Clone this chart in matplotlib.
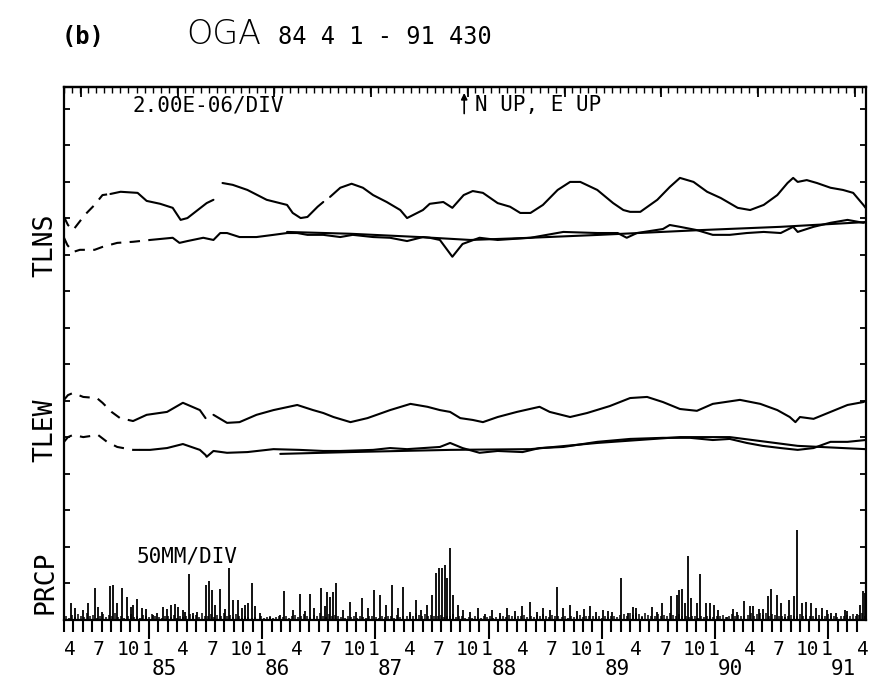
import numpy as np
import matplotlib
matplotlib.use("Agg")
import matplotlib.pyplot as plt

# ---------------- data (time in decimal years, tilt in divisions of 2.00E-06) -------------
ns_raw_early_t = [1984.25, 1984.285, 1984.33, 1984.435, 1984.52, 1984.59, 1984.66]
ns_raw_early_v = [11.04, 10.82, 10.68, 11.10, 11.37, 11.64, 11.67]
ns_raw_t = [1984.66, 1984.75, 1984.90, 1984.98, 1985.10, 1985.21, 1985.28, 1985.34, 1985.51, 1985.57,
            np.nan, 1985.65, 1985.74, 1985.87, 1986.04, 1986.22, 1986.27, 1986.34, 1986.40, 1986.49,
            1986.54, np.nan, 1986.60, 1986.69, 1986.79, 1986.89, 1986.98, 1987.10, 1987.22, 1987.28,
            1987.42, 1987.48, 1987.60, 1987.68, 1987.78, 1987.86, 1987.95, 1988.08, 1988.19, 1988.28,
            1988.37, 1988.48, 1988.61, 1988.72, 1988.81, 1988.96, 1989.10, 1989.19, 1989.25, 1989.34,
            1989.49, 1989.60, 1989.69, 1989.81, 1989.93, 1990.05, 1990.20, 1990.31, 1990.43, 1990.55,
            1990.64, 1990.69, 1990.73, 1990.81, 1990.90, 1991.02, 1991.13, 1991.22, 1991.31, 1991.33]
ns_raw_v = [11.67, 11.73, 11.70, 11.48, 11.40, 11.29, 10.96, 11.01, 11.42, 11.51,
            np.nan, 11.97, 11.92, 11.78, 11.51, 11.37, 11.15, 11.01, 11.04, 11.32,
            11.45, np.nan, 11.59, 11.84, 11.95, 11.84, 11.64, 11.45, 11.23, 11.01,
            11.23, 11.40, 11.45, 11.29, 11.64, 11.75, 11.70, 11.42, 11.32, 11.15,
            11.15, 11.37, 11.78, 12.00, 12.00, 11.78, 11.42, 11.23, 11.18, 11.18,
            11.51, 11.86, 12.11, 12.00, 11.73, 11.56, 11.29, 11.23, 11.37, 11.64,
            11.97, 12.11, 12.00, 12.05, 11.97, 11.84, 11.78, 11.70, 11.37, 11.29]

ns_res_early_t = [1984.25, 1984.28, 1984.33, 1984.39, 1984.52, 1984.59, 1984.72, 1984.86, 1985.01]
ns_res_early_v = [10.47, 10.27, 10.08, 10.14, 10.14, 10.22, 10.33, 10.36, 10.41]
ns_res_t = [1985.01, 1985.21, 1985.27, 1985.34, 1985.48, 1985.57, 1985.63, 1985.69, 1985.80, 1985.95,
            1986.10, 1986.22, 1986.31, 1986.40, 1986.54, 1986.69, 1986.80, 1986.98, 1987.13, 1987.28,
            1987.42, 1987.48, 1987.57, 1987.68, 1987.77, 1987.92, 1988.08, 1988.37, 1988.66, 1988.96,
            1989.14, 1989.22, 1989.31, 1989.54, 1989.60, 1989.69, 1989.84, 1989.98, 1990.13, 1990.28,
            1990.43, 1990.58, 1990.69, 1990.73, 1990.87, 1991.02, 1991.17, 1991.31, 1991.33]
ns_res_v = [10.41, 10.47, 10.33, 10.38, 10.47, 10.41, 10.60, 10.60, 10.49, 10.49,
            10.55, 10.60, 10.60, 10.55, 10.55, 10.49, 10.55, 10.49, 10.47, 10.38,
            10.49, 10.47, 10.41, 9.95, 10.30, 10.47, 10.41, 10.47, 10.63, 10.60,
            10.60, 10.47, 10.60, 10.71, 10.82, 10.77, 10.68, 10.55, 10.55, 10.60,
            10.63, 10.60, 10.77, 10.63, 10.77, 10.88, 10.96, 10.88, 10.90]
ns_fit_t = [1986.22, 1986.78, 1987.39, 1987.84, 1988.37, 1988.98, 1989.87, 1990.58, 1991.33]
ns_fit_v = [10.63, 10.58, 10.49, 10.41, 10.47, 10.55, 10.68, 10.77, 10.90]

ew_raw_early_t = [1984.25, 1984.285, 1984.33, 1984.42, 1984.54, 1984.59, 1984.67, 1984.745, 1984.86]
ew_raw_early_v = [6.03, 6.16, 6.22, 6.11, 6.08, 5.95, 5.70, 5.53, 5.45]
ew_raw_t = [1984.86, 1984.98, 1985.16, 1985.30, 1985.45, 1985.50, np.nan, 1985.57, 1985.69, 1985.80,
            1985.95, 1986.10, 1986.31, 1986.45, 1986.54, 1986.63, 1986.78, 1986.93, 1987.13, 1987.31,
            1987.46, 1987.57, 1987.66, 1987.75, 1987.86, 1987.95, 1988.08, 1988.25, 1988.45, 1988.54,
            1988.72, 1988.87, 1989.07, 1989.25, 1989.40, 1989.54, 1989.69, 1989.84, 1989.98, 1990.22,
            1990.40, 1990.55, 1990.66, 1990.71, 1990.75, 1990.87, 1991.02, 1991.17, 1991.31, 1991.33]
ew_raw_v = [5.45, 5.62, 5.70, 5.95, 5.75, 5.53, np.nan, 5.62, 5.40, 5.42,
            5.62, 5.75, 5.89, 5.75, 5.67, 5.56, 5.42, 5.53, 5.75, 5.92,
            5.84, 5.75, 5.70, 5.53, 5.48, 5.42, 5.56, 5.70, 5.84, 5.70,
            5.56, 5.67, 5.86, 6.08, 6.11, 5.97, 5.78, 5.73, 5.92, 6.03,
            5.92, 5.75, 5.56, 5.42, 5.56, 5.51, 5.70, 5.89, 5.97, 6.00]

ew_res_early_t = [1984.25, 1984.285, 1984.33, 1984.42, 1984.55, 1984.63, 1984.72, 1984.86, 1984.92]
ew_res_early_v = [4.88, 5.01, 5.07, 5.01, 5.07, 4.88, 4.74, 4.66, 4.66]
ew_res_t = [1984.92, 1985.01, 1985.16, 1985.30, 1985.45, 1985.50, 1985.51, 1985.57, 1985.69, 1985.87,
            1986.10, 1986.33, 1986.54, 1986.69, 1986.98, 1987.13, 1987.28, 1987.57, 1987.66, 1987.77,
            1987.92, 1988.08, 1988.30, 1988.45, 1988.66, 1988.96, 1989.25, 1989.54, 1989.78, 1989.98,
            1990.13, 1990.28, 1990.42, 1990.58, 1990.73, 1990.87, 1991.02, 1991.17, 1991.33]
ew_res_v = [4.66, 4.66, 4.71, 4.82, 4.66, 4.52, 4.47, 4.63, 4.58, 4.60,
            4.68, 4.66, 4.63, 4.63, 4.66, 4.71, 4.68, 4.74, 4.85, 4.71,
            4.58, 4.63, 4.60, 4.71, 4.74, 4.88, 4.96, 4.99, 4.99, 4.93,
            4.96, 4.85, 4.77, 4.71, 4.66, 4.71, 4.88, 4.88, 4.93]
ew_fit_t = [1986.16, 1986.78, 1987.66, 1988.37, 1988.96, 1989.69, 1990.13, 1990.73, 1991.33]
ew_fit_v = [4.55, 4.60, 4.66, 4.68, 4.85, 5.01, 5.01, 4.77, 4.68]

# precipitation (mm), 50 mm per division -- individual larger rain days
prcp_t = [1984.309, 1984.347, 1984.418, 1984.462, 1984.524, 1984.550, 1984.586, 1984.656, 1984.683, 1984.718,
          1984.762, 1984.807, 1984.842, 1984.860, 1984.895, 1984.939, 1984.974, 1985.036, 1985.072, 1985.125,
          1985.160, 1985.195, 1985.231, 1985.257, 1985.301, 1985.319, 1985.354, 1985.390, 1985.425, 1985.504,
          1985.531, 1985.557, 1985.584, 1985.628, 1985.672, 1985.708, 1985.743, 1985.787, 1985.822, 1985.849,
          1985.875, 1985.911, 1985.937, 1985.981, 1986.070, 1986.158, 1986.193, 1986.273, 1986.335, 1986.379,
          1986.423, 1986.458, 1986.520, 1986.556, 1986.573, 1986.600, 1986.626, 1986.653, 1986.715, 1986.777,
          1986.830, 1986.883, 1986.936, 1986.989, 1987.042, 1987.095, 1987.148, 1987.201, 1987.245, 1987.307,
          1987.360, 1987.404, 1987.457, 1987.501, 1987.536, 1987.563, 1987.589, 1987.616, 1987.633, 1987.660,
          1987.686, 1987.731, 1987.775, 1987.837, 1987.907, 1987.969, 1988.031, 1988.102, 1988.163, 1988.234,
          1988.296, 1988.367, 1988.428, 1988.481, 1988.543, 1988.605, 1988.658, 1988.720, 1988.782, 1988.844,
          1988.897, 1988.950, 1989.012, 1989.056, 1989.091, 1989.171, 1989.232, 1989.277, 1989.303, 1989.356,
          1989.444, 1989.489, 1989.533, 1989.612, 1989.665, 1989.683, 1989.709, 1989.736, 1989.762, 1989.789,
          1989.842, 1989.868, 1989.921, 1989.957, 1989.992, 1990.027, 1990.107, 1990.160, 1990.195, 1990.257,
          1990.310, 1990.337, 1990.390, 1990.425, 1990.469, 1990.496, 1990.549, 1990.584, 1990.619, 1990.655,
          1990.699, 1990.725, 1990.769, 1990.805, 1990.849, 1990.893, 1990.946, 1990.990, 1991.026, 1991.070,
          1991.149, 1991.167, 1991.255, 1991.282, 1991.308, 1991.326]
prcp_mm = [23, 16, 14, 23, 44, 18, 11, 47, 48, 23,
           44, 32, 18, 21, 29, 16, 15, 7, 10, 18,
           15, 21, 22, 18, 14, 11, 63, 10, 11, 48,
           53, 41, 21, 42, 15, 71, 27, 27, 16, 21,
           23, 51, 19, 10, 4, 7, 40, 14, 36, 12,
           36, 16, 44, 19, 38, 32, 38, 51, 14, 25,
           11, 30, 16, 41, 34, 21, 48, 16, 45, 11,
           27, 14, 21, 34, 64, 71, 71, 75, 58, 99,
           34, 21, 14, 11, 16, 8, 14, 10, 16, 12,
           19, 25, 11, 16, 14, 45, 16, 21, 12, 15,
           19, 11, 14, 12, 11, 58, 10, 18, 16, 4,
           18, 11, 23, 33, 34, 41, 42, 23, 88, 30,
           23, 63, 23, 23, 21, 14, 4, 15, 11, 26,
           19, 19, 15, 15, 33, 42, 34, 23, 4, 27,
           33, 123, 23, 25, 23, 16, 16, 14, 10, 10,
           14, 12, 8, 21, 40, 37]

# light rain, one value per 10-day period starting 1984-04-01 (mm)
prcp_light_mm = [5, 3, 7, 4, 8, 6, 4, 9, 5, 7,
                 3, 6, 8, 4, 7, 5, 9, 4, 6, 3,
                 5, 8, 4, 6, 3, 7, 5, 4, 8, 6,
                 4, 3, 5, 6, 4, 7, 3, 5, 4, 6,
                 8, 5, 7, 4, 9, 6, 5, 8, 4, 7,
                 6, 9, 5, 7, 4, 8, 6, 3, 5, 4,
                 3, 4, 2, 5, 3, 4, 6, 3, 4, 5,
                 4, 6, 3, 5, 7, 4, 6, 8, 5, 4,
                 7, 5, 9, 6, 4, 8, 5, 7, 6, 4,
                 3, 5, 4, 6, 3, 5, 4, 3, 6, 5,
                 4, 3, 5, 4, 6, 5, 3, 7, 4, 5,
                 6, 8, 5, 9, 7, 6, 8, 5, 7, 6,
                 5, 7, 4, 6, 5, 8, 4, 6, 5, 3,
                 4, 3, 5, 4, 3, 6, 4, 5, 3, 4,
                 5, 6, 4, 7, 5, 4, 6, 5, 7, 4,
                 6, 4, 7, 5, 8, 6, 4, 7, 5, 6,
                 4, 5, 3, 6, 4, 5, 7, 4, 5, 6,
                 5, 4, 6, 3, 5, 4, 6, 5, 4, 7,
                 8, 6, 9, 7, 10, 8, 6, 9, 7, 5,
                 6, 8, 5, 7, 6, 9, 7, 5, 8, 6,
                 5, 4, 6, 5, 3, 6, 4, 5, 6, 4,
                 6, 5, 7, 4, 6, 8, 5, 7, 6, 5,
                 7, 9, 6, 8, 10, 7, 9, 6, 8, 7,
                 6, 5, 8, 6, 7, 5, 6, 8, 5, 7,
                 5, 6, 4, 7, 5, 6, 8, 5, 6, 4,
                 6, 5, 7, 6, 8, 5, 7, 9, 6]

month_labels = {4: "4", 7: "7", 10: "10", 1: "1"}
year_labels = ["85", "86", "87", "88", "89", "90", "91"]

# ---------------- figure ----------------
W, H = 871, 682
fig = plt.figure(figsize=(W / 100, H / 100), dpi=100)
fig.patch.set_facecolor("white")
ax = fig.add_axes([64 / W, 1 - 620 / H, (866 - 64) / W, (620 - 87) / H])
t0, t1 = 1984.25, 1984.25 + 85 / 12
ax.set_xlim(t0, t1)
ax.set_ylim(0, 14.6)

lw = 1.5
kw = dict(color="black", lw=lw, solid_capstyle="round")
for te, ve, tm, vm in [(ns_raw_early_t, ns_raw_early_v, ns_raw_t, ns_raw_v),
                       (ns_res_early_t, ns_res_early_v, ns_res_t, ns_res_v),
                       (ew_raw_early_t, ew_raw_early_v, ew_raw_t, ew_raw_v),
                       (ew_res_early_t, ew_res_early_v, ew_res_t, ew_res_v)]:
    ax.plot(te, ve, ls=(0, (5, 4)), **kw)
    ax.plot(tm, vm, **kw)
ax.plot(ns_fit_t, ns_fit_v, **kw)
ax.plot(ew_fit_t, ew_fit_v, **kw)

# precipitation bars
light_t = t0 + (np.arange(len(prcp_light_mm)) + 0.5) * 10 / 365.25
ax.vlines(light_t, 0, np.array(prcp_light_mm) / 50.0, color="black", lw=1.1)
ax.vlines(prcp_t, 0, np.array(prcp_mm) / 50.0, color="black", lw=1.3)

# spines
for s in ax.spines.values():
    s.set_linewidth(1.6)

# y ticks (inward both sides)
ax.set_yticks(np.arange(1, 15))
ax.tick_params(axis="y", which="both", direction="in", left=True, right=True,
               labelleft=False, labelright=False, length=4.5, width=1.3)

# bottom ticks: monthly, January longer
months = np.arange(0, 85)
mt = t0 + months / 12.0
jan = [m for m in mt if abs((m - round(m))) < 1e-6]
ax.set_xticks(jan)
ax.set_xticks(mt, minor=True)
ax.tick_params(axis="x", which="major", direction="out", length=14, width=1.5, labelbottom=False)
ax.tick_params(axis="x", which="minor", direction="out", length=8.5, width=1.5)

# top ticks (fine comb)
sec = ax.secondary_xaxis("top")
top_minor = t0 + np.arange(0, 100) * 26 / 365.25
top_major = t0 + (55 + np.arange(0, 9) * 312) / 365.25
sec.set_xticks(top_major)
sec.set_xticks(top_minor[top_minor <= t1], minor=True)
sec.tick_params(axis="x", which="major", direction="in", length=7, width=1.3, labeltop=False)
sec.tick_params(axis="x", which="minor", direction="in", length=4.5, width=1.0)
sec.spines["top"].set_linewidth(1.6)

# month & year labels
offs = {4: 0.64, 7: 0.70, 10: 0.80, 1: -0.2}
trans = ax.get_xaxis_transform()
for i, m in enumerate(mt):
    mon = (4 + i - 1) % 12 + 1
    if mon in month_labels:
        ax.text(m + offs[mon] / 12.0, -0.056, month_labels[mon], transform=trans,
                ha="center", va="center", fontsize=14, family="DejaVu Sans Mono")
for k, yl in enumerate(year_labels):
    ax.text(1985 + k + 0.135, -0.092, yl, transform=trans, ha="center", va="center",
            fontsize=15, family="DejaVu Sans Mono")

# in-plot annotations
mono = dict(family="DejaVu Sans Mono", fontsize=15)
ax.text(0.086, 0.966, "2.00E-06/DIV", transform=ax.transAxes, ha="left", va="center", **mono)
ax.text(0.512, 0.966, "N UP, E UP", transform=ax.transAxes, ha="left", va="center", **mono)
ax.annotate("", xy=(0.499, 0.994), xytext=(0.499, 0.945), xycoords="axes fraction",
            arrowprops=dict(arrowstyle="-|>", color="black", lw=1.2, mutation_scale=9))
ax.text(0.091, 0.120, "50MM/DIV", transform=ax.transAxes, ha="left", va="center", **mono)

# side labels
for lab, yc in [("TLNS", 245), ("TLEW", 430), ("PRCP", 582)]:
    fig.text(45 / W, 1 - yc / H, lab, rotation=90, ha="center", va="center", fontsize=19,
             family="DejaVu Sans Mono")

# title
fig.text(62 / W, 1 - 37 / H, "(b)", ha="left", va="center", fontsize=17, weight="bold",
         family="DejaVu Sans Mono")
fig.text(186 / W, 1 - 35 / H, "OGA", ha="left", va="center", fontsize=24, weight="light")
fig.text(278 / W, 1 - 37 / H, "84 4 1 - 91 430", ha="left", va="center", fontsize=17,
         family="DejaVu Sans Mono")

fig.savefig("out.png", dpi=100, facecolor="white")
